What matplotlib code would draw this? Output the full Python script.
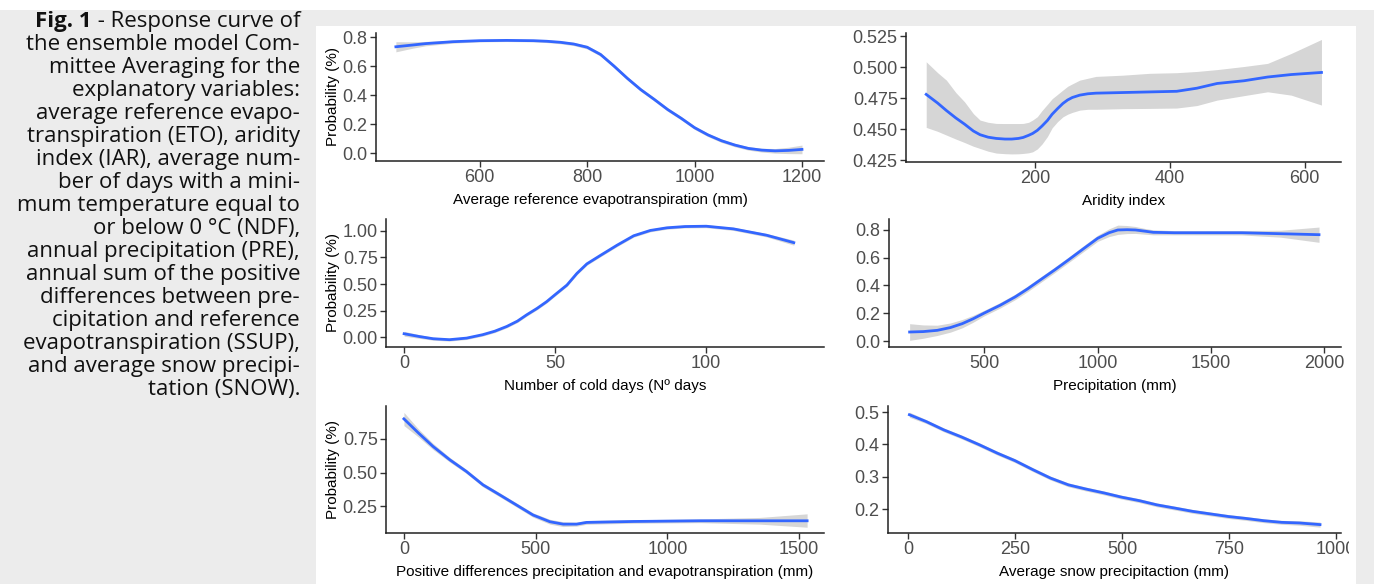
import numpy as np
import matplotlib
matplotlib.use("Agg")
from matplotlib import pyplot as plt
from matplotlib.patches import Rectangle

W, H = 1374, 584

# ---- data ----
eto_x = [444, 475, 500, 550, 600, 650, 700, 725, 750, 775, 800, 825, 850, 875, 900, 925,
         950, 975, 1000, 1025, 1050, 1075, 1100, 1125, 1150, 1175, 1200]
eto_fit = [0.733, 0.745, 0.755, 0.768, 0.775, 0.777, 0.775, 0.771, 0.764, 0.752, 0.730,
           0.680, 0.600, 0.515, 0.437, 0.370, 0.300, 0.240, 0.175, 0.125, 0.085, 0.055,
           0.032, 0.020, 0.015, 0.018, 0.025]
eto_lo = [0.698, 0.723, 0.740, 0.758, 0.767, 0.769, 0.767, 0.762, 0.754, 0.741, 0.718,
          0.668, 0.588, 0.503, 0.425, 0.358, 0.288, 0.228, 0.163, 0.113, 0.073, 0.043,
          0.020, 0.007, -0.001, -0.004, -0.005]
eto_hi = [0.768, 0.767, 0.770, 0.778, 0.783, 0.785, 0.783, 0.780, 0.774, 0.763, 0.742,
          0.692, 0.612, 0.527, 0.449, 0.382, 0.312, 0.252, 0.187, 0.137, 0.097, 0.067,
          0.044, 0.033, 0.031, 0.040, 0.055]

iar_x = [38, 55, 68, 82, 95, 108, 118, 130, 142, 155, 165, 175, 182, 190, 196, 203, 210,
         218, 225, 233, 241, 248, 255, 266, 278, 290, 330, 370, 410, 440, 470, 510, 545,
         580, 625]
iar_fit = [0.478, 0.471, 0.465, 0.459, 0.454, 0.4485, 0.4455, 0.4435, 0.4425, 0.442,
           0.442, 0.4425, 0.4433, 0.445, 0.4465, 0.449, 0.4525, 0.457, 0.462, 0.4665,
           0.4707, 0.4735, 0.4755, 0.4774, 0.4785, 0.479, 0.4795, 0.480, 0.4805, 0.483,
           0.4868, 0.489, 0.492, 0.494, 0.4957]
iar_lo = [0.4514, 0.4482, 0.4452, 0.442, 0.4392, 0.4362, 0.4344, 0.4322, 0.4307, 0.4302,
          0.4300, 0.4301, 0.4304, 0.4309, 0.4317, 0.434, 0.438, 0.444, 0.451, 0.456,
          0.4599, 0.462, 0.4635, 0.4653, 0.466, 0.466, 0.4665, 0.4667, 0.467, 0.469,
          0.4734, 0.477, 0.4801, 0.4774, 0.4694]
iar_hi = [0.5043, 0.4955, 0.4895, 0.4795, 0.472, 0.4625, 0.4573, 0.4555, 0.4546, 0.4545,
          0.4545, 0.4545, 0.4546, 0.4555, 0.4573, 0.460, 0.465, 0.470, 0.4745, 0.478,
          0.4815, 0.4845, 0.4865, 0.4895, 0.491, 0.4925, 0.4935, 0.495, 0.4955, 0.4965,
          0.498, 0.5005, 0.503, 0.511, 0.5223]

ndf_x = [0, 5, 9.6, 15, 20.7, 26, 30, 34, 37.5, 40.6, 44, 47.2, 50, 53.9, 57.2, 60.5, 65,
         70.5, 76, 81.5, 87, 93, 100, 109, 120, 129]
ndf_fit = [0.031, 0.005, -0.016, -0.025, -0.010, 0.022, 0.055, 0.100, 0.150, 0.210, 0.270,
           0.334, 0.400, 0.490, 0.600, 0.690, 0.770, 0.866, 0.955, 1.005, 1.030, 1.042,
           1.045, 1.020, 0.960, 0.890]
ndf_lo = [0.008, -0.012, -0.030, -0.038, -0.023, 0.009, 0.042, 0.087, 0.137, 0.197, 0.257,
          0.321, 0.387, 0.477, 0.587, 0.677, 0.757, 0.853, 0.942, 0.992, 1.017, 1.029,
          1.031, 1.005, 0.944, 0.866]
ndf_hi = [0.054, 0.022, -0.002, -0.012, 0.003, 0.035, 0.068, 0.113, 0.163, 0.223, 0.283,
          0.347, 0.413, 0.503, 0.613, 0.703, 0.783, 0.879, 0.968, 1.018, 1.043, 1.055,
          1.059, 1.035, 0.976, 0.914]

pre_x = [170, 230, 292, 350, 402, 450, 500, 570, 636, 690, 745, 810, 870, 935, 1000, 1050,
         1089, 1130, 1167, 1205, 1245, 1339, 1636, 1808, 1977]
pre_fit = [0.065, 0.068, 0.077, 0.097, 0.125, 0.160, 0.202, 0.258, 0.318, 0.375, 0.438,
           0.512, 0.583, 0.662, 0.740, 0.780, 0.800, 0.802, 0.800, 0.792, 0.783, 0.780,
           0.780, 0.773, 0.766]
pre_lo = [0.005, 0.020, 0.040, 0.064, 0.095, 0.135, 0.182, 0.238, 0.298, 0.355, 0.418,
          0.492, 0.563, 0.641, 0.718, 0.752, 0.768, 0.774, 0.775, 0.770, 0.765, 0.765,
          0.764, 0.748, 0.711]
pre_hi = [0.125, 0.116, 0.114, 0.130, 0.155, 0.185, 0.222, 0.278, 0.338, 0.395, 0.458,
          0.532, 0.603, 0.683, 0.762, 0.808, 0.835, 0.832, 0.825, 0.812, 0.801, 0.795,
          0.796, 0.798, 0.821]

ssup_x = [0, 55, 110, 174, 237, 300, 364, 427, 490, 554, 604, 655, 693, 871, 1124, 1350,
          1530]
ssup_fit = [0.900, 0.795, 0.695, 0.595, 0.508, 0.408, 0.333, 0.258, 0.183, 0.133, 0.115,
            0.115, 0.128, 0.135, 0.140, 0.140, 0.140]
ssup_lo = [0.850, 0.765, 0.672, 0.578, 0.493, 0.393, 0.318, 0.243, 0.167, 0.115, 0.097,
           0.100, 0.114, 0.122, 0.126, 0.115, 0.092]
ssup_hi = [0.948, 0.825, 0.718, 0.612, 0.523, 0.423, 0.348, 0.273, 0.199, 0.151, 0.133,
           0.130, 0.142, 0.148, 0.154, 0.165, 0.192]

snow_x = [2.5, 41.5, 83, 124.6, 166, 208, 249, 291, 332, 374, 415, 457, 498, 540, 581,
          623, 664, 706, 748, 789, 831, 872, 914, 962]
snow_fit = [0.492, 0.471, 0.445, 0.423, 0.399, 0.373, 0.350, 0.322, 0.296, 0.275, 0.262,
            0.250, 0.237, 0.226, 0.213, 0.203, 0.193, 0.185, 0.177, 0.171, 0.164, 0.159,
            0.157, 0.152]
snow_lo = [0.484, 0.465, 0.439, 0.417, 0.393, 0.367, 0.344, 0.316, 0.290, 0.269, 0.256,
           0.244, 0.231, 0.220, 0.207, 0.197, 0.187, 0.179, 0.171, 0.165, 0.158, 0.153,
           0.150, 0.144]
snow_hi = [0.500, 0.477, 0.451, 0.429, 0.405, 0.379, 0.356, 0.328, 0.302, 0.281, 0.268,
           0.256, 0.243, 0.232, 0.219, 0.209, 0.199, 0.191, 0.183, 0.177, 0.170, 0.165,
           0.164, 0.160]

caption = [
    " - Response curve of",
    "the ensemble model Com-",
    "mittee Averaging for the",
    "explanatory variables:",
    "average reference evapo-",
    "transpiration (ETO), aridity",
    "index (IAR), average num-",
    "ber of days with a mini-",
    "mum temperature equal to",
    "or below 0 °C (NDF),",
    "annual precipitation (PRE),",
    "annual sum of the positive",
    "differences between pre-",
    "cipitation and reference",
    "evapotranspiration (SSUP),",
    "and average snow precipi-",
    "tation (SNOW).",
]

GRAY = "#ececec"
BLUE = "#3366ff"

fig = plt.figure(figsize=(W / 100, H / 100), dpi=100, facecolor="white")


def rect(x0, y0, x1, y1, color, z):
    # pixel box measured from the top-left corner
    fig.add_artist(Rectangle((x0 / W, 1 - y1 / H), (x1 - x0) / W, (y1 - y0) / H,
                             transform=fig.transFigure, facecolor=color,
                             edgecolor="none", zorder=z))


rect(0, 10, W, 26, GRAY, -5)
rect(0, 26, 316, H, GRAY, -5)
rect(1356, 10, W, H, GRAY, 20)
rect(1349, 536, 1356, 566, "white", 20)

# caption, right aligned
cap_kw = dict(ha="right", va="baseline", fontsize=16, family=["Open Sans", "DejaVu Sans"],
              color="#111111")
t0 = fig.text(300 / W, 1 - 27 / H, caption[0], **cap_kw)
bb = t0.get_window_extent(fig.canvas.get_renderer())
fig.text(bb.x0 / W, 1 - 27 / H, "Fig. 1", weight="bold", **cap_kw)
for i, line in enumerate(caption[1:], start=1):
    fig.text(300 / W, 1 - (27 + 23 * i) / H, line, **cap_kw)

FONT = ["Liberation Sans", "DejaVu Sans"]


def panel(box, x, fit, lo, hi, xlim, ylim, xt, yt, yfmt, xlabel, ylab):
    x0, y0, x1, y1 = box
    ax = fig.add_axes([x0 / W, 1 - y1 / H, (x1 - x0) / W, (y1 - y0) / H])
    ax.fill_between(x, lo, hi, color="#999999", alpha=0.4, lw=0)
    ax.plot(x, fit, color=BLUE, lw=2.0, solid_joinstyle="round")
    ax.set_xlim(*xlim)
    ax.set_ylim(*ylim)
    ax.set_xticks(xt)
    ax.set_xticklabels([str(v) for v in xt], family=FONT)
    ax.set_yticks(yt)
    ax.set_yticklabels([yfmt.format(v) for v in yt], family=FONT)
    for s in ["top", "right"]:
        ax.spines[s].set_visible(False)
    for s in ["left", "bottom"]:
        ax.spines[s].set_color("#222222")
        ax.spines[s].set_linewidth(1.1)
    ax.tick_params(length=4, width=1, color="#333333", labelcolor="#4d4d4d",
                   labelsize=13, pad=2)
    ax.set_xlabel(xlabel, fontsize=11, family=FONT, va="center", color="black")
    ax.xaxis.set_label_coords(0.5, -39 / (y1 - y0))
    if ylab:
        ax.set_ylabel("Probability (%)", fontsize=11, family=FONT, va="center",
                      color="black")
        ax.yaxis.set_label_coords(333 / W, 1 - (y0 + y1) / 2 / H,
                                  transform=fig.transFigure)
    return ax


panel((376, 33, 824, 161), eto_x, eto_fit, eto_lo, eto_hi, (407, 1241), (-0.055, 0.828),
      [600, 800, 1000, 1200], [0.0, 0.2, 0.4, 0.6, 0.8], "{:.1f}",
      "Average reference evapotranspiration (mm)", True)
panel((906, 33, 1341, 162), iar_x, iar_fit, iar_lo, iar_hi, (8, 654), (0.4235, 0.5275),
      [200, 400, 600], [0.425, 0.45, 0.475, 0.5, 0.525], "{:.3f}",
      "Aridity index", False)
panel((386, 219, 824, 347), ndf_x, ndf_fit, ndf_lo, ndf_hi, (-6, 139), (-0.094, 1.113),
      [0, 50, 100], [0.0, 0.25, 0.5, 0.75, 1.0], "{:.2f}",
      "Number of cold days (Nº days", True)
panel((889, 219, 1341, 347), pre_x, pre_fit, pre_lo, pre_hi, (79, 2074), (-0.043, 0.879),
      [500, 1000, 1500, 2000], [0.0, 0.2, 0.4, 0.6, 0.8], "{:.1f}",
      "Precipitation (mm)", False)
panel((386, 406, 824, 533), ssup_x, ssup_fit, ssup_lo, ssup_hi, (-68, 1594), (0.049, 0.996),
      [0, 500, 1000, 1500], [0.25, 0.5, 0.75], "{:.2f}",
      "Positive differences precipitation and evapotranspiration (mm)", True)
panel((888, 406, 1341, 533), snow_x, snow_fit, snow_lo, snow_hi, (-47.5, 1011), (0.126, 0.519),
      [0, 250, 500, 750, 1000], [0.2, 0.3, 0.4, 0.5], "{:.1f}",
      "Average snow precipitaction (mm)", False)

fig.savefig("out.png", dpi=100, facecolor="white")
